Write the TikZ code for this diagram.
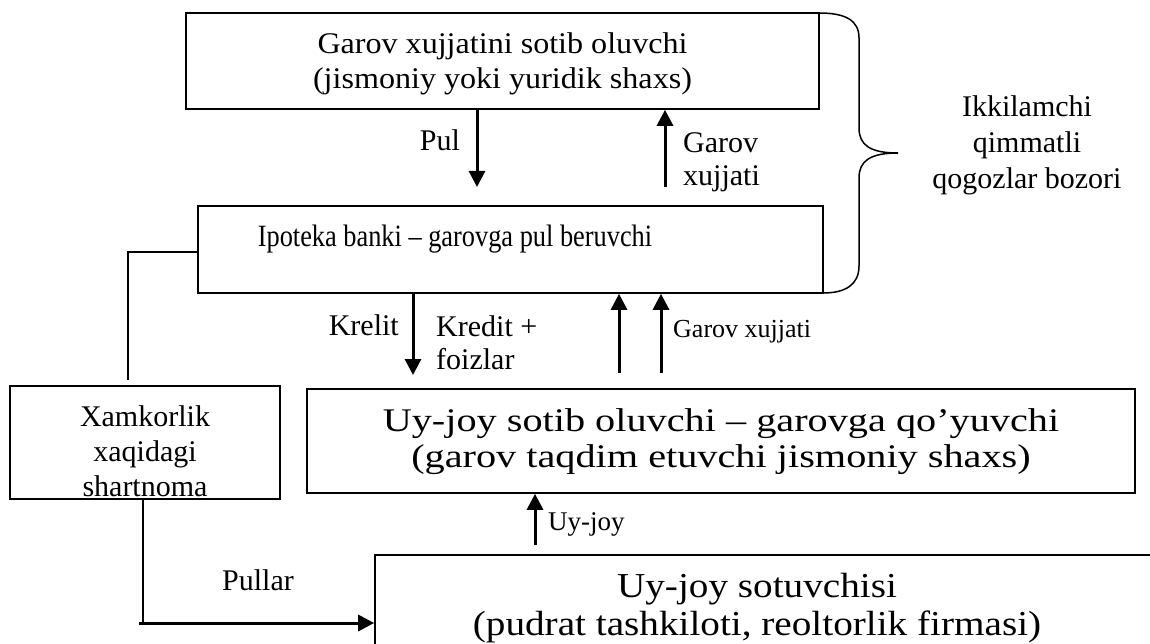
\documentclass[tikz,border=0pt]{standalone}
\usepackage{fontspec}
\setmainfont{Liberation Serif}
\newfontfamily\ftop[FakeStretch=1.07]{Liberation Serif}
\newfontfamily\fipo[FakeStretch=0.85]{Liberation Serif}
\newfontfamily\fmid[FakeStretch=1.22]{Liberation Serif}
\newfontfamily\fbot[FakeStretch=1.12]{Liberation Serif}
\usetikzlibrary{arrows.meta}
\begin{document}
\begin{tikzpicture}[x=1pt,y=-1pt,
  box/.style={draw, line width=1.6pt, inner sep=0pt},
  txt/.style={inner sep=0pt, align=center, font=\fontsize{30}{35}\selectfont},
  lbl/.style={inner sep=0pt, align=left, font=\fontsize{30}{33}\selectfont},
  arr/.style={line width=3pt, -{Triangle[width=16pt,length=16pt]}},
  thinline/.style={line width=1.4pt}]
\clip (0,0) rectangle (1150,644);
\fill[white] (0,0) rectangle (1150,644);

% boxes
\node[box, minimum width=633pt, minimum height=96pt] (buyer) at (502.5,61) {};
\node[txt, font={\ftop\fontsize{30}{35}\selectfont}] (buyertxt) at (502.5,64)
  {Garov xujjatini sotib oluvchi\\(jismoniy yoki yuridik shaxs)};

\node[box, minimum width=625pt, minimum height=87pt] (ipo) at (510.5,249.5) {};
\node[txt, font={\fipo\fontsize{31}{35}\selectfont}] (ipotxt) at (455,239)
  {Ipoteka banki – garovga pul beruvchi};

\node[box, minimum width=270pt, minimum height=113pt] (xam) at (145,442.5) {};
\node[txt] (xamtxt) at (145,451) {Xamkorlik\\xaqidagi\\shartnoma};

\node[box, minimum width=828pt, minimum height=104pt] (mid) at (721,441) {};
\node[txt, font={\fmid\fontsize{33}{36}\selectfont}] (midtxt) at (721,442)
  {Uy-joy sotib oluvchi – garovga qo’yuvchi\\(garov taqdim etuvchi jismoniy shaxs)};

\node[box, minimum width=825pt, minimum height=145pt] (sell) at (787.5,627.5) {};
\node[txt, font={\fbot\fontsize{35}{38}\selectfont}] (selltxt) at (757,608)
  {Uy-joy sotuvchisi\\(pudrat tashkiloti, reoltorlik firmasi)};

% brace
\draw[line width=1.5pt] (819,13) .. controls (845,13) and (859,20) .. (859,38)
  -- (859,128) .. controls (859,145) and (870,153) .. (898,153)
  .. controls (870,153) and (859,161) .. (859,178)
  -- (859,266) .. controls (859,285) and (845,293) .. (823,293);
\node[txt, font={\fontsize{30}{36}\selectfont}] (market) at (1027,145)
  {Ikkilamchi\\qimmatli\\qogozlar bozori};

% arrows between buyer and bank
\coordinate (pulend) at (477,187);
\draw[arr] (buyer.south -| pulend) -- (pulend);
\node[lbl] (pul) at (440,140) {Pul};
\coordinate (gxstart) at (665,187);
\draw[arr] (gxstart) -- (buyer.south -| gxstart);
\node[lbl, anchor=west] (gx1) at (683,162) {Garov\\xujjati};

% arrows between bank and borrower
\coordinate (krend) at (413,375);
\draw[arr] (ipo.south -| krend) -- (krend);
\node[lbl, anchor=east] (krelit) at (399,325) {Krelit};
\node[lbl, anchor=west] (kredit) at (436,343) {Kredit +\\foizlar};
\coordinate (up1) at (619,373);
\draw[arr] (up1) -- (ipo.south -| up1);
\coordinate (up2) at (661,373);
\draw[arr] (up2) -- (ipo.south -| up2);
\node[lbl, anchor=west, font=\fontsize{26}{30}\selectfont] (gx2) at (673,332) {Garov xujjati};

% seller to borrower
\coordinate (uystart) at (535,545);
\draw[arr] (uystart) -- (mid.south -| uystart);
\node[lbl, anchor=west, font=\fontsize{27}{30}\selectfont] (uyjoy) at (548,524) {Uy-joy};

% contract connectors
\coordinate (lc1) at (128,252);
\coordinate (lc2) at (128,380);
\draw[thinline] (ipo.west |- lc1) -- (lc1) -- (lc2);
\coordinate (pc) at (143,623);
\draw[thinline] (xam.south -| pc) -- (pc);
\coordinate (pcs) at (139,623);
\draw[arr] (pcs) -- (sell.west |- pcs);
\node[lbl] (pullar) at (258,580) {Pullar};
\end{tikzpicture}
\end{document}
